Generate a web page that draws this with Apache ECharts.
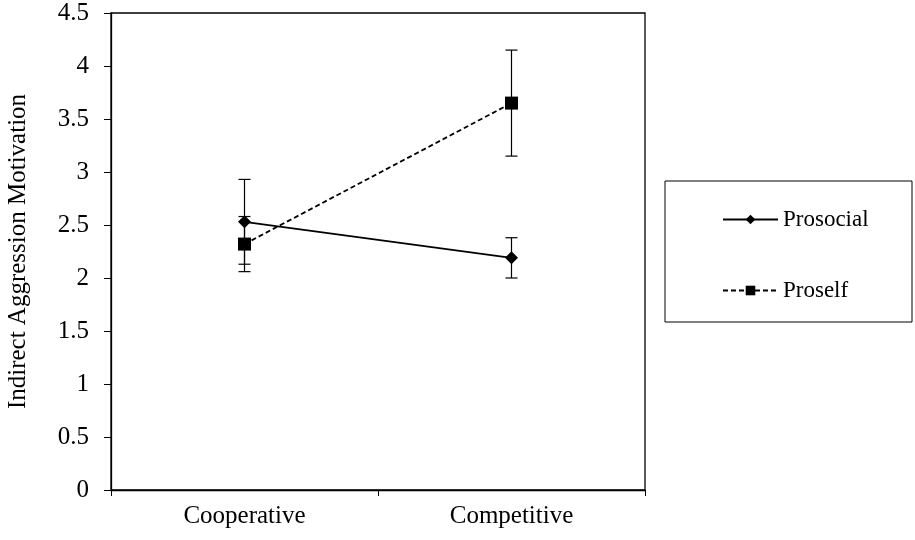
<!DOCTYPE html>
<html>
<head>
<meta charset="utf-8">
<script src="https://cdn.jsdelivr.net/npm/echarts@6/dist/echarts.min.js"></script>
<style>
  html, body { margin: 0; padding: 0; background: #fff; }
  #chart { width: 915px; height: 540px; }
</style>
</head>
<body>
<div id="chart"></div>
<script>
// Conditions on the x axis
const conditions = ['Cooperative', 'Competitive'];
// Mean indirect aggression motivation per group
const prosocialMeans = [2.53, 2.19];
const proselfMeans = [2.32, 3.65];
// Half-width of the error bars
const prosocialErr = [0.40, 0.19];
const proselfErr = [0.26, 0.50];
// Y-axis range and step
const yMin = 0, yMax = 4.5, yStep = 0.5;

const FONT = '"Liberation Serif", "DejaVu Serif", serif';

function errorData(means, errs) {
  return means.map((m, i) => [i, m - errs[i], m + errs[i]]);
}

function errorRenderer(params, api) {
  const x = api.value(0);
  const lo = api.coord([x, api.value(1)]);
  const hi = api.coord([x, api.value(2)]);
  const half = 6;
  const style = { stroke: '#000', lineWidth: 1.2 };
  return {
    type: 'group',
    children: [
      { type: 'line', shape: { x1: lo[0], y1: lo[1], x2: hi[0], y2: hi[1] }, style },
      { type: 'line', shape: { x1: lo[0] - half, y1: lo[1], x2: lo[0] + half, y2: lo[1] }, style },
      { type: 'line', shape: { x1: hi[0] - half, y1: hi[1], x2: hi[0] + half, y2: hi[1] }, style }
    ]
  };
}

const chart = echarts.init(document.getElementById('chart'), null, { renderer: 'canvas' });
chart.setOption({
  animation: false,
  backgroundColor: '#fff',
  textStyle: { fontFamily: FONT, color: '#000' },
  grid: {
    left: 111, right: 270, top: 13, bottom: 50,
    containLabel: false,
    outerBoundsMode: 'none',
    show: true, borderColor: '#000', borderWidth: 1.3, backgroundColor: 'transparent'
  },
  graphic: [{
    type: 'rect',
    shape: { x: 665, y: 181, width: 247, height: 141 },
    style: { fill: 'none', stroke: '#000', lineWidth: 1 }
  }],
  legend: {
    orient: 'vertical',
    left: 722, top: 208,
    padding: 0,
    itemWidth: 55, itemHeight: 12,
    itemGap: 48,
    textStyle: { fontFamily: FONT, fontSize: 23, color: '#000' },
    data: ['Prosocial', 'Proself']
  },
  xAxis: {
    type: 'category',
    data: conditions,
    boundaryGap: true,
    axisLine: { lineStyle: { color: '#000', width: 1.3 } },
    axisTick: { show: true, length: 6, lineStyle: { color: '#000' } },
    axisLabel: { fontFamily: FONT, fontSize: 25, color: '#000', margin: 14 }
  },
  yAxis: {
    type: 'value',
    min: yMin, max: yMax, interval: yStep,
    name: 'Indirect Aggression Motivation',
    nameLocation: 'middle',
    nameGap: 80,
    nameTextStyle: { fontFamily: FONT, fontSize: 25, color: '#000' },
    splitLine: { show: false },
    axisLine: { show: true, lineStyle: { color: '#000', width: 1.3 } },
    axisTick: { show: true, length: 7, lineStyle: { color: '#000' } },
    axisLabel: { fontFamily: FONT, fontSize: 25, color: '#000', margin: 22 }
  },
  series: [
    {
      name: 'Prosocial-err', type: 'custom', renderItem: errorRenderer,
      data: errorData(prosocialMeans, prosocialErr), z: 1, silent: true
    },
    {
      name: 'Proself-err', type: 'custom', renderItem: errorRenderer,
      data: errorData(proselfMeans, proselfErr), z: 1, silent: true
    },
    {
      name: 'Prosocial', type: 'line', data: prosocialMeans,
      symbol: 'diamond', symbolSize: 13,
      itemStyle: { color: '#000' },
      lineStyle: { color: '#000', width: 1.8, type: 'solid' },
      z: 3
    },
    {
      name: 'Proself', type: 'line', data: proselfMeans,
      symbol: 'rect', symbolSize: 13,
      itemStyle: { color: '#000' },
      lineStyle: { color: '#000', width: 1.8, type: [5, 3] },
      z: 3
    }
  ]
});
</script>
</body>
</html>
